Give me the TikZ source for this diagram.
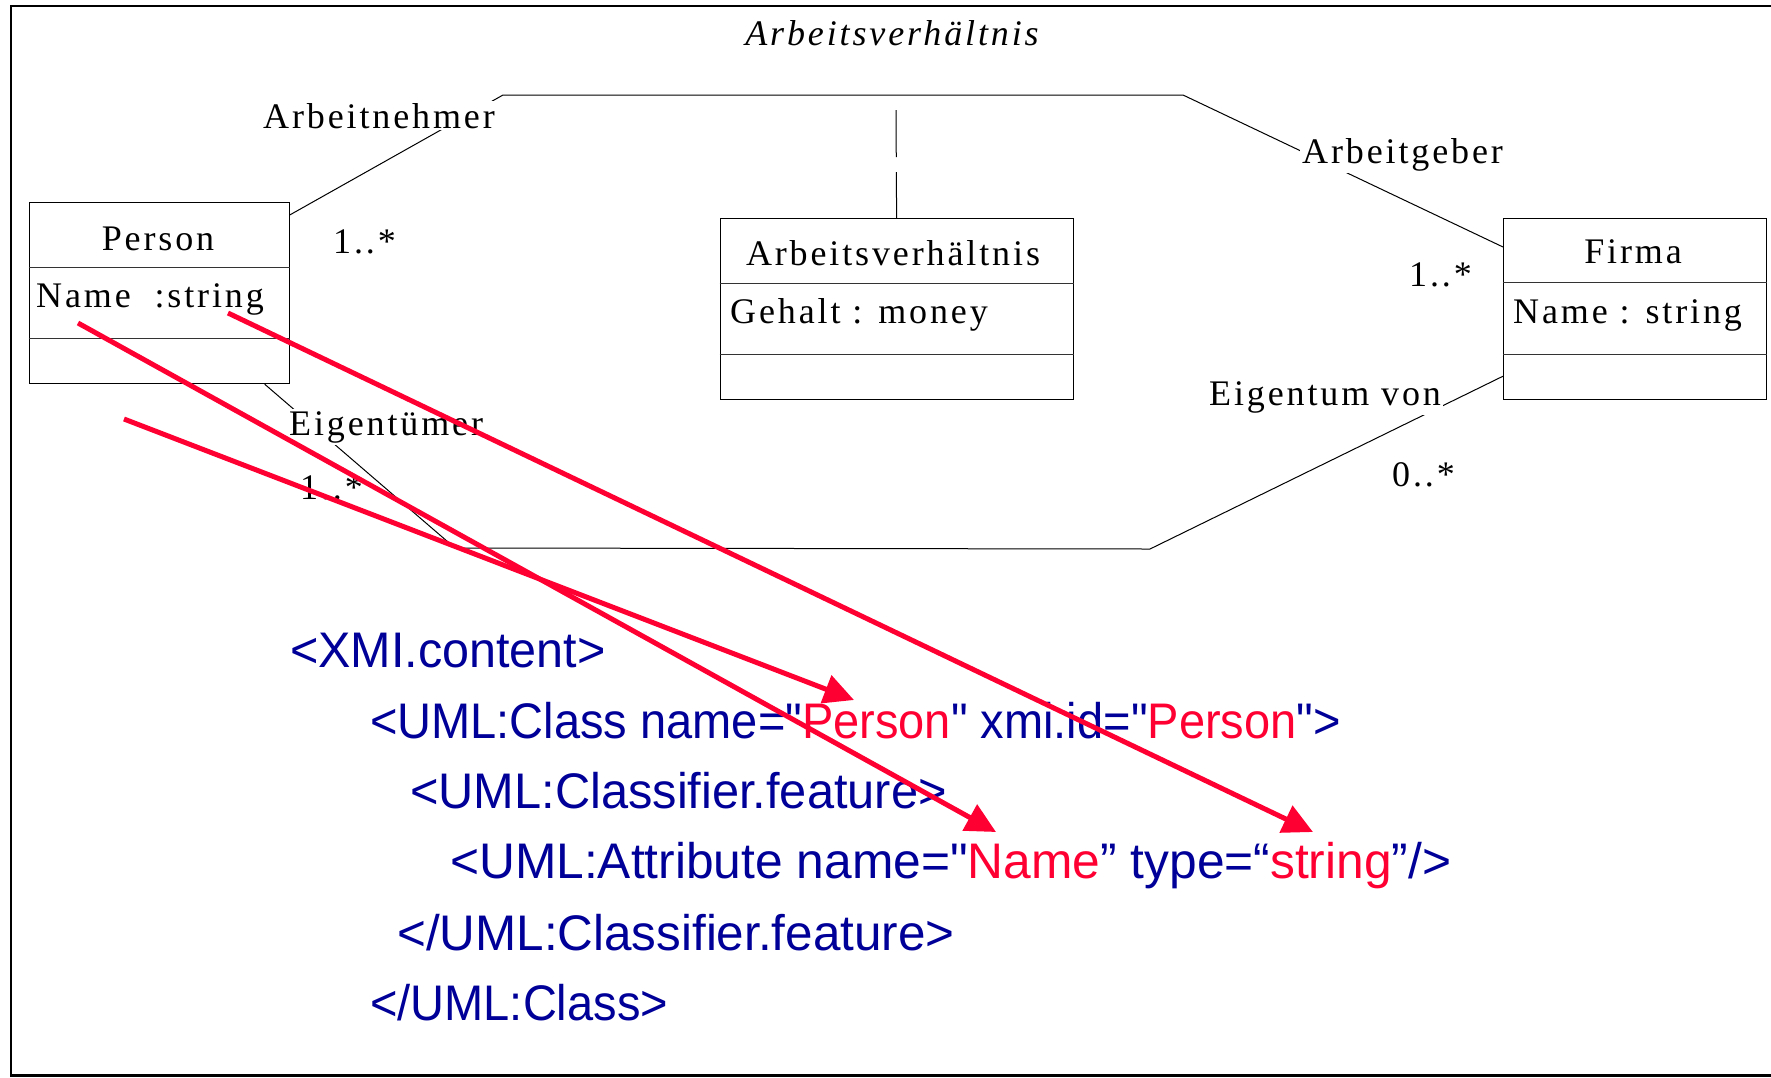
\documentclass[tikz,border=0pt]{standalone}
\usepackage{fontspec}
\usepackage{graphicx}
\setmainfont{Liberation Serif}
\newfontfamily\umlfont[LetterSpace=8]{Liberation Serif}
\newfontfamily\xmifont{Liberation Sans}
\usetikzlibrary{arrows.meta}
\definecolor{xblue}{RGB}{0,0,153}
\definecolor{xred}{RGB}{255,0,51}
\newcommand{\xmiline}[2]{\scalebox{#1}[1]{#2}}
\begin{document}
\begin{tikzpicture}[x=1pt,y=-1pt,
  frameline/.style={line width=2.5pt},
  classbox/.style={draw, line width=1.2pt, anchor=north west, inner sep=0pt},
  divider/.style={line width=1pt, draw=black!80},
  assoc/.style={line width=1pt},
  umltext/.style={font=\umlfont\fontsize{36}{42}\selectfont, inner sep=0pt, anchor=base west},
  umltitle/.style={umltext, anchor=base},
  rolelabel/.style={umltext, fill=white, inner sep=2pt},
  xmi/.style={font=\xmifont\fontsize{50}{60}\selectfont, text=xblue, inner sep=0pt, anchor=base west},
  redarrow/.style={draw=xred, line width=5pt, -{Triangle[length=30pt,width=29pt]}}
]
\useasboundingbox (0,0) rectangle (1771,1077);
% frame
\coordinate (fTL) at (11,6); \coordinate (fTR) at (1790,6);
\coordinate (fBL) at (11,1075.5); \coordinate (fBR) at (1790,1075.5);
\draw[frameline] (fTR) -- (fTL) -- (fBL) -- (fBR);
\node[font=\umlfont\itshape\fontsize{36}{42}\selectfont, anchor=base, inner sep=0pt] (title) at (892,45) {Arbeitsverhältnis};

% classes
\node[classbox, minimum width=260pt, minimum height=181pt] (person) at (28.5,202) {};
\draw[divider] ([yshift=-65pt]person.north west) -- ([yshift=-65pt]person.north east);
\draw[divider] ([yshift=-136pt]person.north west) -- ([yshift=-136pt]person.north east);
\node[umltitle] (personname) at (158,250) {Person};
\node[umltext] (personattr) at (36,307) {Name\ \ :string};

\node[classbox, minimum width=353pt, minimum height=181pt] (job) at (719.5,218) {};
\draw[divider] ([yshift=-65pt]job.north west) -- ([yshift=-65pt]job.north east);
\draw[divider] ([yshift=-136pt]job.north west) -- ([yshift=-136pt]job.north east);
\node[umltitle] (jobname) at (893,265) {Arbeitsverhältnis};
\node[umltext] (jobattr) at (730,323) {Gehalt : money};

\node[classbox, minimum width=263pt, minimum height=181pt] (firma) at (1503,218) {};
\draw[divider] ([yshift=-64pt]firma.north west) -- ([yshift=-64pt]firma.north east);
\draw[divider] ([yshift=-136pt]firma.north west) -- ([yshift=-136pt]firma.north east);
\node[umltitle] (firmaname) at (1633,263) {Firma};
\node[umltext] (firmaattr) at (1513,323) {Name : string};

% associations
\coordinate (a1) at (503,95); \coordinate (a2) at (1183,95);
\draw[assoc] ([yshift=-13pt]person.north east) -- (a1) -- (a2) -- ([yshift=-29pt]firma.north west);
\coordinate (am) at (896,110);
\draw[assoc, dash pattern=on 47pt off 15pt] (am) -- (job.north);
\coordinate (b1) at (455,548); \coordinate (b2) at (1150,549);
\draw[assoc] ([xshift=-25pt]person.south east) -- (b1) -- (b2) -- ([yshift=24pt]firma.south west);

% role labels and multiplicities
\node[rolelabel] (rArbeitnehmer) at (261,128) {Arbeitnehmer};
\node[rolelabel] (rArbeitgeber) at (1300,163) {Arbeitgeber};
\node[rolelabel] (rEigentumvon) at (1207,405) {Eigentum von};
\node[rolelabel] (rEigentuemer) at (287,435) {Eigentümer};
\node[umltext] (m1) at (333,253) {1..*};
\node[umltext] (m2) at (1409,286) {1..*};
\node[umltext] (m3) at (1392,486) {0..*};
\node[umltext] (m4) at (300,499) {1..*};

% XMI text
\node[xmi] (x1) at (290,667) {\xmiline{0.97}{<XMI.content>}};
\node[xmi] (x2) at (370,738) {\xmiline{0.94}{<UML:Class name="\textcolor{xred}{Person}" xmi.id="\textcolor{xred}{Person}">}};
\node[xmi] (x3) at (410,808) {\xmiline{0.975}{<UML:Classifier.feature>}};
\node[xmi] (x4) at (450,878) {\xmiline{0.994}{<UML:Attribute name="\textcolor{xred}{Name}” type=“\textcolor{xred}{string}”/>}};
\node[xmi] (x5) at (397,950) {\xmiline{0.988}{</UML:Classifier.feature>}};
\node[xmi] (x6) at (370,1020) {\xmiline{0.94}{</UML:Class>}};

% red arrows
\coordinate (s1) at (124,419); \coordinate (t1) at (854,700);
\coordinate (s2) at (78,323);  \coordinate (t2) at (996,832);
\coordinate (s3) at (228,313); \coordinate (t3) at (1313,832);
\draw[redarrow] (s1) -- (t1);
\draw[redarrow] (s2) -- (t2);
\draw[redarrow] (s3) -- (t3);
\end{tikzpicture}
\end{document}
